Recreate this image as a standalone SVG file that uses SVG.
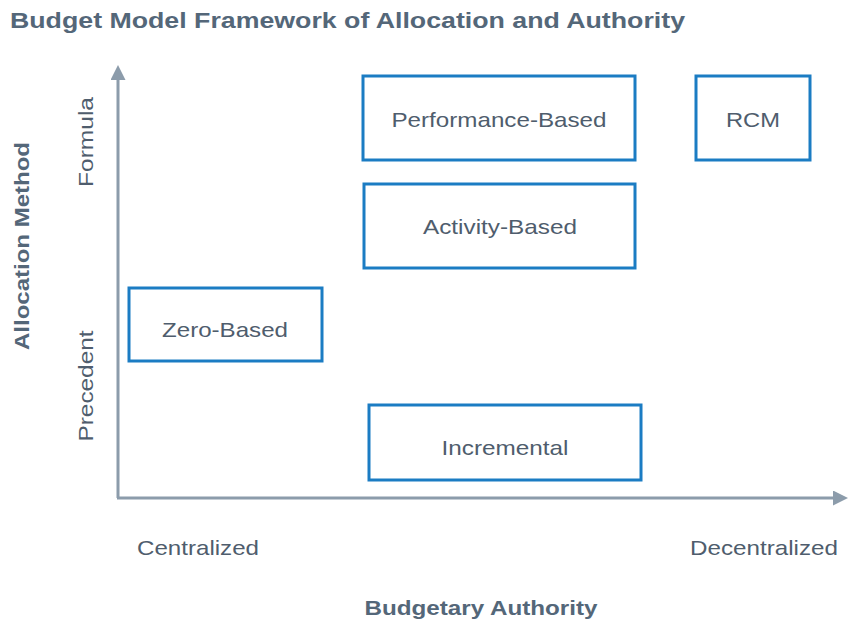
<svg xmlns="http://www.w3.org/2000/svg" width="849" height="625" viewBox="0 0 849 625">
<style>
.box{fill:#fff;stroke:#1b7cc3;stroke-width:3}
.lbl{font-family:"Liberation Sans",Arial,sans-serif;font-size:21px;fill:#4f5d6d;text-anchor:middle}
.ttl{font-family:"Liberation Sans",Arial,sans-serif;font-size:22px;font-weight:bold;fill:#546779}
.ax{font-family:"Liberation Sans",Arial,sans-serif;font-size:20px;font-weight:bold;fill:#546779;text-anchor:middle}
.axis{stroke:#8c9cab;stroke-width:3;fill:none}
</style>
<defs>
<marker id="ah" viewBox="0 0 10 10" refX="0" refY="5" markerWidth="5" markerHeight="5" markerUnits="strokeWidth" orient="auto">
<path d="M0,0 L10,5 L0,10 z" fill="#8c9cab"/>
</marker>
</defs>
<rect width="849" height="625" fill="#fff"/>
<text class="ttl" x="10" y="28" textLength="675" lengthAdjust="spacingAndGlyphs">Budget Model Framework of Allocation and Authority</text>
<g id="connectors">
<line class="axis" x1="118" y1="498" x2="118" y2="80" marker-end="url(#ah)"/>
<line class="axis" x1="117" y1="498" x2="833" y2="498" marker-end="url(#ah)"/>
</g>
<g id="axis-labels">
<text class="ax" transform="translate(29,246) rotate(-90)" textLength="208" lengthAdjust="spacingAndGlyphs">Allocation Method</text>
<text class="lbl" transform="translate(93,142) rotate(-90)" textLength="90" lengthAdjust="spacingAndGlyphs">Formula</text>
<text class="lbl" transform="translate(93,386) rotate(-90)" textLength="111" lengthAdjust="spacingAndGlyphs">Precedent</text>
<text class="lbl" x="198" y="555" textLength="122" lengthAdjust="spacingAndGlyphs">Centralized</text>
<text class="lbl" x="764" y="555" textLength="148" lengthAdjust="spacingAndGlyphs">Decentralized</text>
<text class="ax" x="481" y="615" textLength="233" lengthAdjust="spacingAndGlyphs">Budgetary Authority</text>
</g>
<g id="performance-based"><rect class="box" x="363" y="76" width="272" height="84"/><text class="lbl" x="499" y="127" textLength="215" lengthAdjust="spacingAndGlyphs">Performance-Based</text></g>
<g id="rcm"><rect class="box" x="696" y="76" width="114" height="84"/><text class="lbl" x="753" y="127" textLength="54" lengthAdjust="spacingAndGlyphs">RCM</text></g>
<g id="activity-based"><rect class="box" x="364" y="184" width="271" height="84"/><text class="lbl" x="500" y="234" textLength="154" lengthAdjust="spacingAndGlyphs">Activity-Based</text></g>
<g id="zero-based"><rect class="box" x="129" y="288" width="193" height="73"/><text class="lbl" x="225" y="337" textLength="126" lengthAdjust="spacingAndGlyphs">Zero-Based</text></g>
<g id="incremental"><rect class="box" x="369" y="405" width="272" height="75"/><text class="lbl" x="505" y="455" textLength="127" lengthAdjust="spacingAndGlyphs">Incremental</text></g>
</svg>
